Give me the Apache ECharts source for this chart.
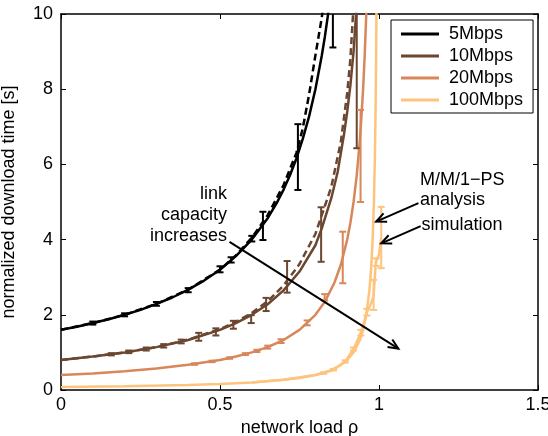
<!DOCTYPE html>
<html>
<head>
<meta charset="utf-8">
<script src="https://cdn.jsdelivr.net/npm/echarts@6/dist/echarts.min.js"></script>
<style>html,body{margin:0;background:#fff}#main{width:548px;height:436px}</style>
</head>
<body>
<div id="main"></div>
<script>
var FONT = '"Liberation Sans", Arial, sans-serif';
var names = ['5Mbps', '10Mbps', '20Mbps', '100Mbps'];
var colors = ['#000000', '#6b4630', '#d8875a', '#fec47e'];

// smooth curves [load, time]
var curve5 = [[0,1.6],[0.05,1.68],[0.1,1.78],[0.15,1.88],[0.2,2.0],[0.25,2.13],[0.3,2.29],[0.35,2.46],[0.4,2.67],[0.45,2.91],[0.5,3.2],[0.55,3.56],[0.6,4.0],[0.65,4.57],[0.68,5.0],[0.7,5.33],[0.72,5.71],[0.74,6.15],[0.76,6.67],[0.78,7.27],[0.8,8.0],[0.82,8.89],[0.83,9.41],[0.84,10.0],[0.85,10.7]];
var curve10 = [[0,0.8],[0.1,0.89],[0.2,1.0],[0.3,1.14],[0.4,1.33],[0.5,1.6],[0.55,1.78],[0.6,2.0],[0.65,2.28],[0.7,2.65],[0.75,3.15],[0.8,3.85],[0.82,4.3],[0.85,5.1],[0.87,5.8],[0.89,6.8],[0.9,7.4],[0.91,8.1],[0.92,9.0],[0.928,10.0],[0.935,11.0]];
var curve20 = [[0,0.4],[0.1,0.44],[0.2,0.5],[0.3,0.57],[0.4,0.67],[0.5,0.8],[0.55,0.89],[0.6,1.0],[0.65,1.14],[0.7,1.33],[0.75,1.6],[0.8,2.0],[0.83,2.35],[0.86,2.86],[0.88,3.33],[0.9,4.0],[0.91,4.44],[0.92,5.0],[0.93,5.71],[0.94,6.67],[0.945,7.3],[0.95,8.0],[0.955,8.9],[0.96,10.0],[0.965,11.4]];
var curve100 = [[0,0.08],[0.2,0.1],[0.4,0.13],[0.5,0.16],[0.6,0.2],[0.7,0.27],[0.75,0.32],[0.8,0.4],[0.85,0.53],[0.88,0.67],[0.9,0.8],[0.92,1.0],[0.94,1.33],[0.95,1.6],[0.96,2.0],[0.97,2.67],[0.975,3.2],[0.98,4.0],[0.984,5.0],[0.987,6.15],[0.989,7.3],[0.991,8.9],[0.992,10.0],[0.994,13.3]];

// dashed curves
var dash5 = [[0,1.6],[0.1,1.78],[0.2,2.0],[0.3,2.29],[0.4,2.67],[0.5,3.2],[0.55,3.58],[0.6,4.05],[0.65,4.65],[0.7,5.45],[0.74,6.3],[0.76,6.95],[0.78,7.85],[0.8,8.9],[0.82,9.9],[0.83,10.6]];
var dash10 = [[0,0.8],[0.1,0.89],[0.2,1.0],[0.3,1.14],[0.4,1.34],[0.5,1.62],[0.55,1.81],[0.6,2.05],[0.65,2.36],[0.7,2.78],[0.75,3.35],[0.8,4.15],[0.85,5.4],[0.88,6.6],[0.9,7.9],[0.91,8.8],[0.917,9.8],[0.925,11.0]];

// simulation line for 100Mbps
var sim100 = [[0.6,0.2],[0.7,0.27],[0.8,0.4],[0.826,0.45],[0.857,0.54],[0.894,0.76],[0.92,1.09],[0.943,1.52],[0.962,2.07],[0.975,2.3],[0.983,2.5],[0.99,3.4],[1.0,3.6],[1.007,4.05]];

// error bars [load, low, high]
var err5 = [[0.1,1.74,1.82],[0.2,1.96,2.04],[0.3,2.24,2.34],[0.4,2.6,2.71],[0.5,3.13,3.29],[0.535,3.39,3.53],[0.6,3.95,4.1],[0.635,3.99,4.74],[0.745,5.32,7.07],[0.855,9.11,11.5]];
var err10 = [[0.158,0.92,0.98],[0.213,0.98,1.05],[0.268,1.05,1.13],[0.323,1.13,1.22],[0.378,1.24,1.34],[0.433,1.31,1.52],[0.487,1.45,1.64],[0.542,1.63,1.84],[0.598,1.78,1.99],[0.645,2.1,2.45],[0.711,2.59,3.43],[0.818,3.41,4.86],[0.93,6.43,13]];
var err20 = [[0.42,0.67,0.71],[0.475,0.74,0.78],[0.53,0.83,0.87],[0.58,0.93,0.98],[0.616,1.01,1.07],[0.65,1.1,1.18],[0.692,1.25,1.35],[0.774,1.72,1.85],[0.829,2.38,2.55],[0.886,2.84,4.21],[0.942,5.0,7.45]];
var err100 = [[0.826,0.43,0.47],[0.857,0.52,0.56],[0.894,0.73,0.79],[0.92,1.05,1.13],[0.943,1.45,1.6],[0.962,1.98,2.16],[0.983,2.13,2.93],[0.991,3.3,3.5],[1.007,3.24,4.87]];

// annotation arrows [x1, y1, x2, y2]
var arrows = [[0.53,3.94,1.061,1.1],[1.124,4.97,0.991,4.48],[1.131,4.36,1.007,3.9]];

var curves = [curve5, curve10, curve20, curve100];
var dashes = [dash5, dash10];
var errs = [err5, err10, err20, err100];

var chart = echarts.init(document.getElementById('main'));

function errorRender(color) {
  return function (params, api) {
    var cs = params.coordSys;
    var x = api.value(0);
    var lo = api.coord([x, api.value(1)]);
    var hi = api.coord([x, api.value(2)]);
    var top = Math.max(hi[1], cs.y);
    var w = 3.5;
    var st = { stroke: color, lineWidth: 2 };
    var kids = [
      { type: 'line', shape: { x1: lo[0], y1: lo[1], x2: lo[0], y2: top }, style: st },
      { type: 'line', shape: { x1: lo[0] - w, y1: lo[1], x2: lo[0] + w, y2: lo[1] }, style: st }
    ];
    if (hi[1] >= cs.y) {
      kids.push({ type: 'line', shape: { x1: hi[0] - w, y1: hi[1], x2: hi[0] + w, y2: hi[1] }, style: st });
    }
    return { type: 'group', children: kids };
  };
}

function arrowRender(params, api) {
  var a = api.coord([api.value(0), api.value(1)]);
  var b = api.coord([api.value(2), api.value(3)]);
  var ang = Math.atan2(b[1] - a[1], b[0] - a[0]);
  var L = 11, s = 0.42;
  var p1 = [b[0] - L * Math.cos(ang - s), b[1] - L * Math.sin(ang - s)];
  var p2 = [b[0] - L * Math.cos(ang + s), b[1] - L * Math.sin(ang + s)];
  return { type: 'group', children: [
    { type: 'line', shape: { x1: a[0], y1: a[1], x2: b[0], y2: b[1] }, style: { stroke: '#000', lineWidth: 2 } },
    { type: 'polyline', shape: { points: [p1, b, p2] }, style: { stroke: '#000', lineWidth: 2, fill: null } }
  ] };
}

var series = [];
dashes.forEach(function (d, i) {
  series.push({
    name: names[i] + ' analysis', type: 'line', data: d, symbol: 'none',
    lineStyle: { color: colors[i], width: 2.5, type: [7, 4] }, z: 2
  });
});
curves.forEach(function (d, i) {
  series.push({
    name: names[i], type: 'line', data: d, symbol: 'none',
    color: colors[i],
    lineStyle: { color: colors[i], width: 2.5 }, z: 3
  });
});
series.push({
  name: '100Mbps sim', type: 'line', data: sim100, symbol: 'none',
  lineStyle: { color: colors[3], width: 2.5 }, z: 3
});
errs.forEach(function (d, i) {
  series.push({
    name: names[i] + ' err', type: 'custom', data: d,
    encode: { x: 0, y: [1, 2] },
    renderItem: errorRender(colors[i]), z: 4
  });
});
series.push({
  name: 'arrows', type: 'custom', data: arrows,
  encode: { x: [0, 2], y: [1, 3] },
  renderItem: arrowRender, z: 5
});

function xAx(pos, label) {
  return {
    type: 'value', min: 0, max: 1.5, interval: 0.5, position: pos,
    name: label ? 'network load ρ' : '', nameLocation: 'middle', nameGap: 23,
    nameTextStyle: { fontSize: 18, color: '#000', fontFamily: FONT },
    axisLine: { show: true, onZero: false, lineStyle: { color: '#000', width: 1.5 } },
    axisTick: { show: true, inside: true, length: 5, lineStyle: { color: '#000' } },
    axisLabel: { show: label, color: '#000', fontSize: 18, margin: 6, fontFamily: FONT },
    splitLine: { show: false }
  };
}
function yAx(pos, label) {
  return {
    type: 'value', min: 0, max: 10, interval: 2, position: pos,
    name: label ? 'normalized download time [s]' : '', nameLocation: 'middle', nameGap: 43,
    nameTextStyle: { fontSize: 18, color: '#000', fontFamily: FONT },
    axisLine: { show: true, onZero: false, lineStyle: { color: '#000', width: 1.5 } },
    axisTick: { show: true, inside: true, length: 5, lineStyle: { color: '#000' } },
    axisLabel: { show: label, color: '#000', fontSize: 18, margin: 8, fontFamily: FONT },
    splitLine: { show: false }
  };
}

chart.setOption({
  animation: false,
  backgroundColor: '#fff',
  grid: { left: 61, right: 10, top: 14, bottom: 46, containLabel: false, outerBoundsMode: 'none' },
  xAxis: [xAx('bottom', true), xAx('top', false)],
  yAxis: [yAx('left', true), yAx('right', false)],
  legend: {
    data: names, orient: 'vertical', left: 391, top: 20,
    backgroundColor: '#fff', borderColor: '#000', borderWidth: 1,
    padding: [3, 10, 2, 10], itemWidth: 38, itemHeight: 3, itemGap: 0, icon: 'rect',
    textStyle: { fontSize: 18, color: '#000', fontFamily: FONT, lineHeight: 22, padding: [0, 0, 0, 5] }
  },
  graphic: [
    { type: 'text', style: { text: 'link\ncapacity\nincreases', x: 227, y: 183.5, align: 'right', verticalAlign: 'top', lineHeight: 21, font: '18px ' + FONT, fill: '#000' } },
    { type: 'text', style: { text: 'M/M/1−PS\nanalysis', x: 420, y: 170.5, align: 'left', verticalAlign: 'top', lineHeight: 20, font: '18px ' + FONT, fill: '#000' } },
    { type: 'text', style: { text: 'simulation', x: 421.5, y: 215, align: 'left', verticalAlign: 'top', lineHeight: 20, font: '18px ' + FONT, fill: '#000' } }
  ],
  series: series
});
</script>
</body>
</html>
